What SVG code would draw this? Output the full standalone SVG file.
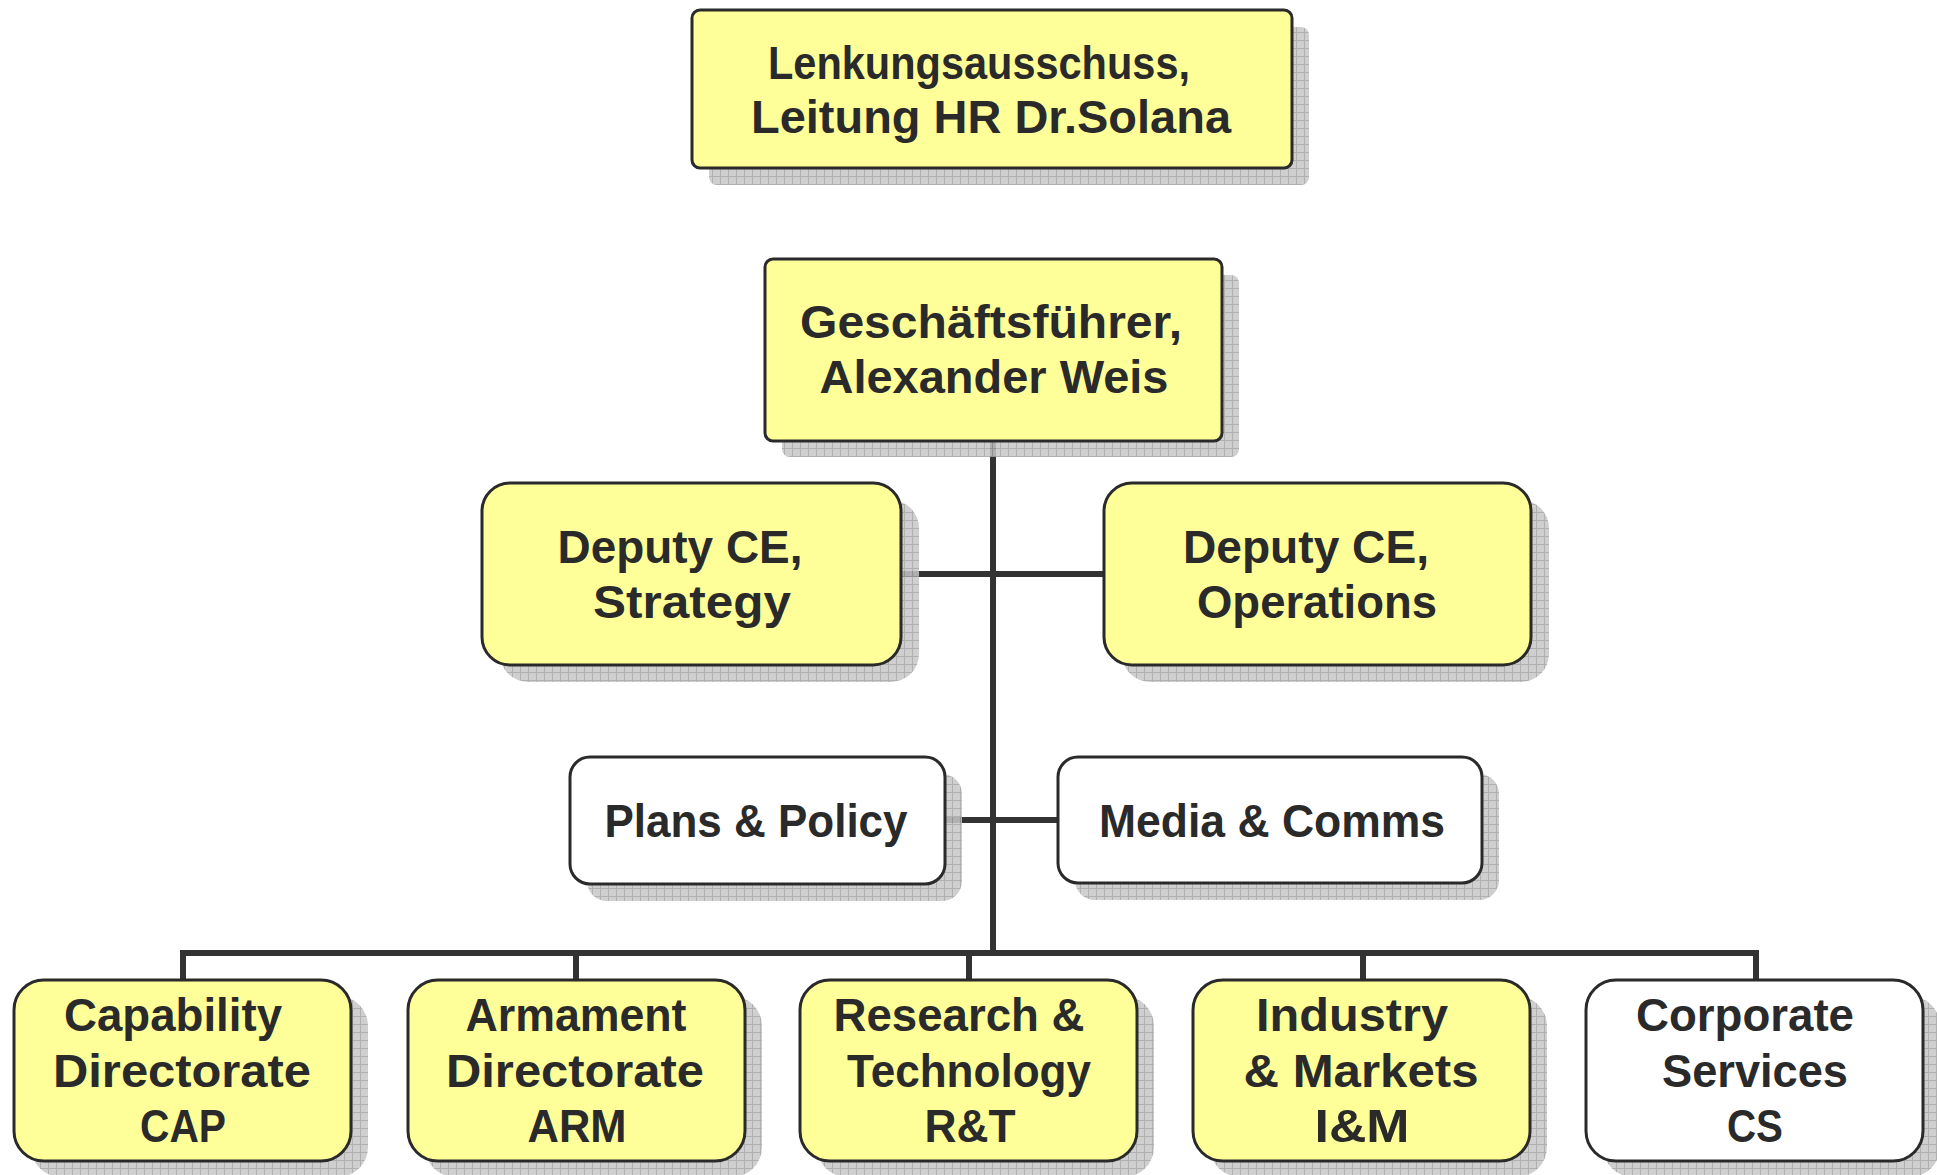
<svg xmlns="http://www.w3.org/2000/svg" width="1937" height="1175" viewBox="0 0 1937 1175">
<defs>
<pattern id="grid" width="8" height="8" patternUnits="userSpaceOnUse">
<rect width="8" height="8" fill="#c6c6c6"/>
<path d="M0 0.5H8M0.5 0V8" stroke="#a2a2a2" stroke-width="1" fill="none"/>
</pattern>
<style>
.sh{fill:url(#grid);opacity:0.85}
.y{fill:#ffff99;stroke:#2a2a2a;stroke-width:3}
.w{fill:#ffffff;stroke:#2a2a2a;stroke-width:3}
.t{font-family:"Liberation Sans",Arial,sans-serif;font-weight:bold;font-size:46px;fill:#2a2a2a;text-anchor:middle}
.c{stroke:#333333;stroke-width:6;fill:none}
</style>
</defs>
<rect width="1937" height="1175" fill="#ffffff"/>
<g id="connectors">
<path class="c" d="M993 441V953"/>
<path class="c" d="M901 574H1104"/>
<path class="c" d="M945 820H1058"/>
<path class="c" d="M183 953H1756"/>
<path class="c" d="M183 950V980M576 950V980M969 950V980M1363 950V980M1756 950V980"/>
</g>
<g id="lenkung">
<rect class="sh" x="709" y="27" width="600" height="158" rx="8"/>
<rect class="y" x="692" y="10" width="600" height="158" rx="8"/>
<text class="t" x="979" y="79" textLength="422" lengthAdjust="spacingAndGlyphs">Lenkungsausschuss,</text>
<text class="t" x="991" y="133" textLength="480" lengthAdjust="spacingAndGlyphs">Leitung HR Dr.Solana</text>
</g>
<g id="gf">
<rect class="sh" x="782" y="275" width="457" height="182" rx="8"/>
<rect class="y" x="765" y="259" width="457" height="182" rx="8"/>
<text class="t" x="991" y="338" textLength="382" lengthAdjust="spacingAndGlyphs">Geschäftsführer,</text>
<text class="t" x="994" y="393" textLength="349" lengthAdjust="spacingAndGlyphs">Alexander Weis</text>
</g>
<g id="deputy-strategy">
<rect class="sh" x="500" y="500" width="419" height="182" rx="28"/>
<rect class="y" x="482" y="483" width="419" height="182" rx="28"/>
<text class="t" x="680" y="563" textLength="245" lengthAdjust="spacingAndGlyphs">Deputy CE,</text>
<text class="t" x="692" y="618" textLength="198" lengthAdjust="spacingAndGlyphs">Strategy</text>
</g>
<g id="deputy-operations">
<rect class="sh" x="1122" y="500" width="427" height="182" rx="28"/>
<rect class="y" x="1104" y="483" width="427" height="182" rx="28"/>
<text class="t" x="1306" y="563" textLength="246" lengthAdjust="spacingAndGlyphs">Deputy CE,</text>
<text class="t" x="1317" y="618" textLength="240" lengthAdjust="spacingAndGlyphs">Operations</text>
</g>
<g id="plans-policy">
<rect class="sh" x="587" y="774" width="375" height="127" rx="20"/>
<rect class="w" x="570" y="757" width="375" height="127" rx="20"/>
<text class="t" x="756" y="837" textLength="303" lengthAdjust="spacingAndGlyphs">Plans &amp; Policy</text>
</g>
<g id="media-comms">
<rect class="sh" x="1075" y="774" width="424" height="126" rx="20"/>
<rect class="w" x="1058" y="757" width="424" height="126" rx="20"/>
<text class="t" x="1272" y="837" textLength="346" lengthAdjust="spacingAndGlyphs">Media &amp; Comms</text>
</g>
<g id="cap">
<rect class="sh" x="31" y="996" width="337" height="181" rx="30"/>
<rect class="y" x="14" y="980" width="337" height="181" rx="30"/>
<text class="t" x="173" y="1031" textLength="218" lengthAdjust="spacingAndGlyphs">Capability</text>
<text class="t" x="182" y="1087" textLength="258" lengthAdjust="spacingAndGlyphs">Directorate</text>
<text class="t" x="183" y="1142" textLength="86" lengthAdjust="spacingAndGlyphs">CAP</text>
</g>
<g id="arm">
<rect class="sh" x="425" y="996" width="337" height="181" rx="30"/>
<rect class="y" x="408" y="980" width="337" height="181" rx="30"/>
<text class="t" x="576" y="1031" textLength="221" lengthAdjust="spacingAndGlyphs">Armament</text>
<text class="t" x="575" y="1087" textLength="258" lengthAdjust="spacingAndGlyphs">Directorate</text>
<text class="t" x="577" y="1142" textLength="99" lengthAdjust="spacingAndGlyphs">ARM</text>
</g>
<g id="rt">
<rect class="sh" x="817" y="996" width="337" height="181" rx="30"/>
<rect class="y" x="800" y="980" width="337" height="181" rx="30"/>
<text class="t" x="959" y="1031" textLength="251" lengthAdjust="spacingAndGlyphs">Research &amp;</text>
<text class="t" x="969" y="1087" textLength="244" lengthAdjust="spacingAndGlyphs">Technology</text>
<text class="t" x="970" y="1142" textLength="91" lengthAdjust="spacingAndGlyphs">R&amp;T</text>
</g>
<g id="im">
<rect class="sh" x="1210" y="996" width="337" height="181" rx="30"/>
<rect class="y" x="1193" y="980" width="337" height="181" rx="30"/>
<text class="t" x="1352" y="1031" textLength="192" lengthAdjust="spacingAndGlyphs">Industry</text>
<text class="t" x="1361" y="1087" textLength="235" lengthAdjust="spacingAndGlyphs">&amp; Markets</text>
<text class="t" x="1362" y="1142" textLength="95" lengthAdjust="spacingAndGlyphs">I&amp;M</text>
</g>
<g id="cs">
<rect class="sh" x="1603" y="996" width="337" height="181" rx="30"/>
<rect class="w" x="1586" y="980" width="337" height="181" rx="30"/>
<text class="t" x="1745" y="1031" textLength="218" lengthAdjust="spacingAndGlyphs">Corporate</text>
<text class="t" x="1755" y="1087" textLength="186" lengthAdjust="spacingAndGlyphs">Services</text>
<text class="t" x="1755" y="1142" textLength="56" lengthAdjust="spacingAndGlyphs">CS</text>
</g>
</svg>
